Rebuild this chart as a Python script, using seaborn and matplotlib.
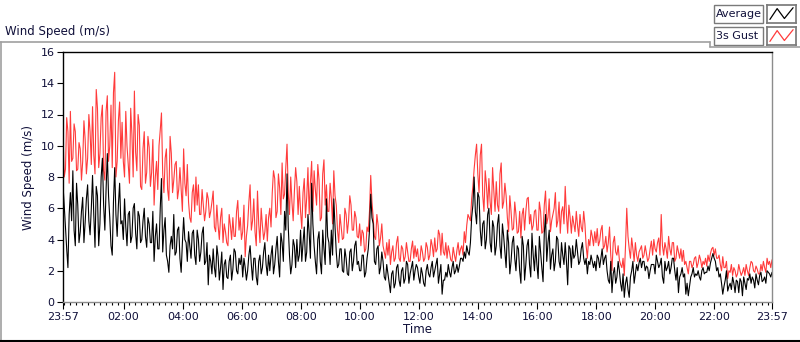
#!/usr/bin/env python3
"""Wind speed over one day: 3s gust vs average (LabVIEW-style chart)."""

import matplotlib
matplotlib.use("Agg")
import matplotlib.pyplot as plt
import pandas as pd
import seaborn as sns
from matplotlib.lines import Line2D
from matplotlib.patches import Rectangle

STEP_MIN = 5  # readings every 5 minutes from 23:57, plus one in between

GUST = [
    10.8, 8.5, 10.9, 12.2, 9.2, 10.9, 8.5, 9.8, 9.0, 10.4, 9.2, 10.9,
    12.5, 8.2, 12.4, 9.5, 12.6, 7.8, 13.2, 10.0, 8.6, 14.7, 9.0, 12.8,
    11.5, 8.0, 10.0, 7.6, 10.7, 13.5, 8.4, 11.3, 7.2, 10.9, 8.3, 9.9,
    8.3, 6.2, 9.0, 10.0, 12.1, 7.0, 9.8, 6.5, 9.5, 7.8, 9.0, 7.2,
    7.2, 9.8, 6.8, 6.4, 5.1, 7.5, 8.0, 7.5, 5.6, 6.2, 5.8, 6.6,
    5.8, 7.1, 4.5, 4.9, 5.4, 3.8, 4.5, 3.6, 4.9, 5.4, 4.2, 6.5,
    5.4, 4.5, 2.9, 4.9, 7.5, 5.2, 4.5, 7.1, 3.8, 4.9, 4.5, 3.9,
    6.0, 7.0, 7.9, 5.8, 7.3, 8.9, 6.9, 10.1, 5.6, 6.4, 7.1, 7.7,
    7.4, 4.7, 7.9, 6.7, 5.6, 9.0, 8.4, 6.2, 7.8, 5.4, 9.1, 7.5,
    5.8, 6.6, 8.4, 6.2, 3.8, 4.8, 4.1, 5.6, 5.2, 6.2, 4.6, 5.4,
    4.1, 3.6, 4.4, 3.4, 4.5, 8.1, 5.4, 4.0, 4.9, 4.1, 3.6, 2.8,
    3.0, 2.4, 3.6, 2.8, 4.2, 2.6, 3.4, 2.9, 3.2, 2.6, 3.9, 3.6,
    3.4, 2.7, 3.2, 2.8, 3.5, 3.0, 3.6, 4.1, 3.4, 4.3, 4.4, 3.0,
    2.8, 3.2, 2.6, 3.0, 3.3, 3.0, 3.6, 4.5, 4.9, 5.4, 6.6, 8.5,
    10.1, 7.0, 10.1, 5.8, 7.5, 7.9, 5.6, 7.1, 7.7, 5.8, 8.9, 6.4,
    6.8, 4.5, 5.8, 4.7, 5.6, 4.5, 4.1, 6.0, 5.8, 6.7, 5.6, 4.9,
    5.9, 4.6, 5.8, 4.5, 7.1, 5.4, 4.5, 5.6, 7.0, 5.2, 4.4, 6.1,
    7.4, 4.4, 5.4, 5.5, 4.5, 4.9, 5.6, 4.5, 5.0, 2.8, 3.6, 4.2,
    4.5, 4.7, 3.9, 4.9, 3.6, 3.2, 4.8, 2.0, 4.2, 3.0, 2.7, 2.2,
    1.7, 6.0, 3.4, 4.1, 2.6, 3.0, 3.2, 3.6, 3.0, 3.1, 2.8, 3.9,
    4.0, 3.2, 4.1, 5.6, 3.0, 3.4, 4.2, 3.0, 3.8, 2.8, 3.2, 3.4,
    3.3, 2.6, 1.8, 2.6, 2.4, 2.9, 2.5, 2.7, 2.6, 2.8, 3.0, 3.1,
    3.5, 3.4, 2.8, 2.4, 2.9, 2.2, 1.5, 1.9, 1.7, 2.0, 1.8, 2.0,
    1.9, 1.7, 2.0, 2.2, 2.5, 1.9, 2.1, 1.8, 2.0, 2.2, 2.8, 2.6,
    2.7,
]

# gust readings taken half-way between the ones above
GUST_MID = [
    8.0, 11.8, 7.6, 9.0, 11.4, 8.4, 10.2, 7.8, 11.6, 8.2, 12.0, 8.8,
    9.4, 13.6, 8.6, 11.8, 8.4, 12.2, 9.0, 12.6, 13.4, 8.0, 11.6, 9.2,
    9.0, 12.2, 8.8, 12.4, 8.0, 9.6, 12.0, 7.4, 9.8, 7.6, 10.6, 7.4,
    10.4, 8.0, 7.2, 11.0, 8.2, 9.2, 7.2, 10.6, 7.0, 8.8, 6.6, 8.6,
    5.8, 7.6, 8.8, 5.4, 7.0, 5.8, 6.2, 5.6, 7.2, 5.2, 7.0, 5.4,
    6.4, 4.8, 6.2, 4.0, 6.0, 5.0, 3.8, 5.6, 4.0, 4.2, 5.8, 4.6,
    4.0, 6.2, 4.2, 6.4, 4.6, 6.6, 3.6, 5.0, 6.0, 4.0, 5.6, 5.4,
    4.8, 8.4, 5.4, 8.2, 5.6, 6.6, 8.6, 7.0, 8.0, 5.2, 8.6, 5.6,
    5.8, 7.0, 5.4, 8.6, 7.6, 5.8, 7.2, 8.8, 5.2, 8.2, 6.2, 5.8,
    7.6, 5.0, 6.8, 4.6, 5.6, 4.0, 6.0, 4.4, 6.8, 4.6, 5.8, 4.2,
    5.0, 4.6, 3.2, 4.8, 5.8, 6.4, 4.2, 5.6, 3.6, 5.0, 3.2, 3.8,
    4.0, 3.2, 2.6, 3.8, 2.8, 3.6, 2.6, 3.8, 2.6, 3.4, 2.8, 2.9,
    2.6, 3.6, 2.6, 3.8, 2.7, 4.0, 2.9, 3.2, 4.6, 3.0, 3.2, 3.8,
    3.6, 2.7, 3.5, 2.6, 3.8, 3.4, 3.0, 3.8, 5.6, 5.2, 7.4, 9.4,
    8.2, 9.4, 6.8, 8.4, 6.0, 6.4, 8.6, 5.8, 6.2, 8.2, 6.0, 7.6,
    5.4, 6.8, 4.6, 6.4, 4.4, 5.8, 5.6, 4.6, 6.6, 5.0, 4.6, 5.8,
    4.6, 6.4, 4.4, 6.2, 5.0, 6.6, 5.2, 6.0, 4.8, 6.4, 5.8, 5.0,
    5.6, 6.2, 4.4, 5.0, 5.8, 4.2, 4.8, 5.8, 3.6, 4.0, 4.6, 3.6,
    3.8, 3.6, 4.6, 3.4, 4.2, 3.8, 3.0, 3.8, 3.2, 3.6, 2.4, 2.8,
    3.6, 4.2, 2.8, 3.4, 3.8, 2.6, 3.4, 2.8, 3.6, 2.6, 3.4, 3.0,
    3.4, 3.8, 3.0, 3.6, 3.8, 2.8, 3.4, 3.8, 2.6, 3.6, 2.8, 2.6,
    2.4, 2.2, 2.6, 2.2, 2.8, 2.2, 3.0, 2.2, 2.4, 2.3, 2.6, 3.4,
    3.0, 2.8, 3.0, 2.0, 2.2, 2.6, 2.0, 2.4, 2.2, 1.6, 2.4, 1.7,
    2.2, 2.4, 1.7, 2.6, 2.0, 2.3, 1.8, 2.4, 2.6, 1.9, 2.4, 2.2,
]

AVERAGE = [
    7.5, 4.8, 2.2, 7.0, 8.4, 3.6, 6.2, 4.5, 6.7, 5.1, 7.5, 4.3,
    8.1, 3.5, 6.8, 5.0, 9.2, 4.6, 9.5, 5.4, 3.0, 8.6, 4.2, 7.6,
    5.2, 6.6, 3.6, 5.8, 4.2, 6.3, 3.4, 5.5, 4.0, 6.0, 3.5, 5.0,
    3.8, 2.6, 5.0, 3.4, 7.9, 4.6, 3.0, 1.9, 4.2, 5.6, 3.2, 4.8,
    1.9, 5.4, 3.8, 4.5, 2.8, 4.6, 2.4, 4.0, 3.2, 4.8, 2.6, 1.1,
    2.6, 3.4, 1.6, 2.9, 2.2, 0.8, 2.7, 1.5, 3.0, 2.1, 3.2, 1.8,
    2.4, 1.6, 2.2, 2.0, 3.6, 1.4, 2.8, 1.1, 3.0, 2.2, 3.8, 1.7,
    2.0, 3.6, 2.4, 4.2, 1.6, 3.8, 5.8, 8.2, 3.0, 2.4, 3.6, 4.0,
    3.0, 2.6, 4.8, 3.2, 4.4, 7.6, 3.6, 1.8, 4.5, 1.8, 3.4, 6.6,
    3.8, 4.6, 6.6, 3.2, 2.4, 3.4, 1.9, 2.8, 1.7, 3.4, 2.6, 3.9,
    2.6, 2.0, 3.0, 1.9, 3.4, 6.9, 5.0, 2.4, 3.6, 2.2, 2.6, 1.4,
    1.8, 0.6, 2.0, 1.2, 2.4, 1.0, 2.2, 1.5, 2.4, 1.8, 2.6, 2.0,
    2.2, 1.2, 1.8, 1.0, 2.4, 1.6, 2.6, 2.0, 2.8, 1.8, 0.5, 1.4,
    1.6, 1.9, 2.2, 1.8, 2.4, 2.3, 2.8, 3.2, 3.6, 3.0, 5.4, 8.0,
    5.0, 6.7, 3.6, 5.2, 4.0, 6.0, 3.2, 4.8, 3.6, 5.6, 2.8, 4.2,
    2.2, 3.8, 2.6, 4.2, 2.0, 3.4, 1.2, 3.6, 2.4, 4.0, 1.6, 3.0,
    3.6, 1.5, 3.2, 1.3, 5.6, 3.8, 2.1, 3.4, 2.6, 4.0, 2.2, 3.0,
    3.8, 1.1, 3.4, 3.6, 3.0, 3.2, 2.6, 3.8, 2.4, 1.8, 2.4, 2.6,
    2.6, 3.0, 2.2, 3.4, 2.8, 2.0, 1.2, 0.6, 2.2, 1.6, 2.0, 0.7,
    0.3, 1.6, 0.3, 2.0, 1.2, 2.4, 2.5, 2.2, 2.6, 2.3, 1.5, 2.4,
    2.4, 3.0, 2.2, 2.8, 1.2, 2.0, 2.6, 2.2, 2.8, 1.4, 0.6, 1.8,
    1.6, 0.5, 0.4, 1.6, 2.2, 1.8, 2.0, 1.4, 2.2, 1.9, 2.3, 2.5,
    3.1, 2.6, 2.2, 1.8, 0.5, 1.4, 0.7, 1.2, 1.6, 0.6, 1.3, 1.5,
    0.4, 1.2, 1.5, 1.8, 1.6, 0.9, 1.4, 1.7, 1.3, 1.6, 2.0, 1.8,
    1.9,
]

AVERAGE_MID = [
    6.2, 3.4, 5.6, 5.2, 4.6, 7.6, 3.8, 5.8, 3.8, 6.6, 5.2, 6.0,
    5.6, 7.4, 3.6, 8.0, 6.2, 7.2, 6.8, 3.6, 6.4, 5.6, 6.2, 5.0,
    4.0, 4.8, 5.6, 3.8, 6.0, 4.4, 5.8, 3.8, 5.2, 4.2, 5.4, 3.8,
    5.8, 4.2, 3.4, 6.0, 3.2, 5.4, 2.6, 3.6, 3.4, 3.0, 4.6, 2.8,
    3.8, 4.0, 2.6, 3.6, 4.4, 3.0, 4.6, 2.6, 4.4, 2.4, 3.8, 3.0,
    1.8, 2.2, 3.6, 1.4, 3.2, 2.4, 1.6, 2.6, 1.4, 3.4, 2.0, 2.8,
    3.0, 2.8, 1.4, 3.0, 2.4, 2.8, 1.6, 2.6, 1.8, 3.2, 2.4, 3.0,
    3.0, 1.8, 3.4, 2.6, 4.4, 2.6, 4.6, 4.8, 1.8, 4.0, 2.2, 2.6,
    4.6, 3.8, 2.6, 5.6, 2.8, 5.0, 2.6, 4.0, 2.6, 4.6, 2.4, 4.2,
    2.4, 3.0, 4.8, 2.2, 3.4, 2.0, 3.4, 1.8, 3.2, 2.0, 3.6, 2.4,
    2.0, 3.0, 1.6, 2.8, 4.6, 5.4, 2.6, 3.4, 1.8, 3.2, 1.6, 2.4,
    1.2, 1.8, 0.9, 2.2, 1.4, 2.0, 1.2, 2.6, 1.2, 2.2, 1.4, 2.4,
    1.6, 2.2, 1.2, 2.0, 1.8, 2.2, 1.6, 2.4, 1.2, 2.4, 1.4, 1.9,
    2.4, 1.6, 2.6, 2.0, 1.9, 2.8, 2.6, 2.8, 3.2, 3.8, 6.2, 5.8,
    7.0, 4.6, 5.0, 3.4, 5.6, 3.8, 5.2, 3.0, 5.0, 3.6, 5.0, 3.2,
    4.6, 1.8, 3.8, 2.8, 3.6, 2.0, 4.2, 1.4, 3.6, 2.4, 4.4, 2.0,
    2.4, 4.2, 2.2, 4.4, 2.6, 4.6, 3.0, 2.0, 4.2, 2.6, 3.8, 2.4,
    2.6, 3.6, 2.2, 2.8, 4.0, 2.4, 3.4, 2.8, 2.8, 2.6, 3.0, 2.2,
    2.0, 2.8, 2.8, 2.4, 3.0, 1.4, 2.6, 1.8, 1.2, 2.6, 1.2, 1.8,
    1.2, 0.8, 1.6, 2.6, 1.8, 2.0, 2.8, 2.6, 2.0, 2.2, 2.0, 2.4,
    1.8, 2.6, 2.4, 1.6, 2.6, 2.2, 1.8, 2.8, 2.0, 2.2, 1.6, 2.2,
    1.8, 1.2, 1.0, 1.8, 1.6, 1.7, 1.6, 2.0, 1.8, 1.9, 2.0, 2.8,
    2.8, 2.0, 1.6, 1.2, 1.0, 2.0, 1.0, 0.8, 1.2, 1.4, 0.6, 1.3,
    1.6, 0.8, 1.4, 1.2, 1.4, 1.8, 1.1, 1.9, 1.4, 1.2, 1.9, 1.6,
]

TICK_MINUTES = [0, 123, 243, 363, 483, 603, 723, 843, 963, 1083, 1203, 1323, 1440]
TICK_LABELS = ["23:57", "02:00", "04:00", "06:00", "08:00", "10:00", "12:00",
               "14:00", "16:00", "18:00", "20:00", "22:00", "23:57"]
Y_TICKS = [0, 2, 4, 6, 8, 10, 12, 14, 16]

SERIES_COLORS = {"3s Gust": "#ff3b3b", "Average": "#000000"}


def series_frame(name: str, on_step: list[float], mid_step: list[float]) -> pd.DataFrame:
    minutes = [i * STEP_MIN for i in range(len(on_step))]
    mid_minutes = [i * STEP_MIN + STEP_MIN / 2 for i in range(len(mid_step))]
    frame = pd.DataFrame({
        "minute": minutes + mid_minutes,
        "speed": on_step + mid_step,
        "series": name,
    })
    return frame.sort_values("minute")


def main() -> None:
    df = pd.concat([
        series_frame("3s Gust", GUST, GUST_MID),
        series_frame("Average", AVERAGE, AVERAGE_MID),
    ], ignore_index=True)

    sns.set_theme(style="white")
    plt.rcParams["font.family"] = ["DejaVu Sans"]

    fig = plt.figure(figsize=(8.0, 3.42), dpi=100)
    ax = fig.add_axes([63 / 800, 40 / 342, 709 / 800, 250 / 342])

    sns.lineplot(data=df, x="minute", y="speed", hue="series",
                 palette=SERIES_COLORS, hue_order=["3s Gust", "Average"],
                 estimator=None, sort=False, linewidth=0.8, legend=False, ax=ax)

    ax.set_xlim(0, 1440)
    ax.set_ylim(0, 16)
    ax.set_xticks(TICK_MINUTES)
    ax.set_xticklabels(TICK_LABELS)
    ax.set_xticks(list(range(3, 1440, 12)), minor=True)
    ax.set_yticks(Y_TICKS)
    ax.tick_params(axis="both", which="major", direction="out", length=4,
                   width=0.8, color="black", labelsize=8, pad=2, labelcolor="#10103a")
    ax.tick_params(axis="x", which="minor", direction="out", length=2.5,
                   width=0.8, color="black", bottom=True)
    ax.tick_params(axis="x", which="major", length=5, bottom=True)
    ax.tick_params(axis="y", left=True)
    ax.set_xlabel("Time", fontsize=8.5, labelpad=1, color="#10103a")
    ax.set_ylabel("Wind Speed (m/s)", fontsize=8.5, labelpad=4, color="#10103a")
    for side in ("top", "left"):
        ax.spines[side].set_color("black")
        ax.spines[side].set_linewidth(1.0)
    for side in ("right", "bottom"):
        ax.spines[side].set_color("#8c8c8c")
        ax.spines[side].set_linewidth(1.0)

    # outer panel frame and title
    fig.add_artist(Line2D([0, 710 / 800], [1 - 42 / 342] * 2, color="#a0a0a0", lw=1.2))
    fig.add_artist(Line2D([710 / 800, 710 / 800], [1 - 42 / 342, 1 - 47 / 342], color="#a0a0a0", lw=1.2))
    fig.add_artist(Line2D([710 / 800, 1], [1 - 47 / 342] * 2, color="#a0a0a0", lw=1.2))
    fig.add_artist(Line2D([1 / 800, 1 / 800], [0, 1 - 42 / 342], color="#a0a0a0", lw=1.2))
    fig.add_artist(Line2D([0, 1], [1 / 342, 1 / 342], color="black", lw=1.5))
    fig.text(5 / 800, 1 - 32 / 342, "Wind Speed (m/s)", fontsize=8.5,
             va="center", ha="left", color="#10103a")

    # LabVIEW-style plot legend: name box + swatch box
    for row, name in enumerate(["Average", "3s Gust"]):
        y_top = 5 + row * 22
        fig.patches.append(Rectangle((714 / 800, 1 - (y_top + 18) / 342), 49 / 800, 18 / 342,
                                     transform=fig.transFigure, fc="white",
                                     ec="#7a7a7a", lw=1.0))
        fig.text(716 / 800, 1 - (y_top + 9) / 342, name, fontsize=8,
                 va="center", ha="left", color="#10103a")
        swatch = fig.add_axes([767 / 800, 1 - (y_top + 18) / 342, 29 / 800, 18 / 342])
        swatch.plot([0.1, 0.35, 0.6, 0.9], [0.2, 0.8, 0.25, 0.85],
                    color=SERIES_COLORS[name], lw=0.9)
        swatch.set_xlim(0, 1)
        swatch.set_ylim(0, 1)
        swatch.set_xticks([])
        swatch.set_yticks([])
        for sp in swatch.spines.values():
            sp.set_color("#7a7a7a")

    fig.savefig("out.png", dpi=100)


if __name__ == "__main__":
    main()
